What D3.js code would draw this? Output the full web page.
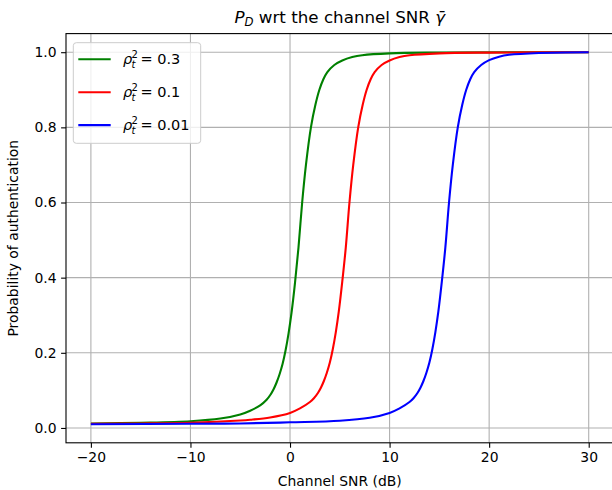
<!DOCTYPE html>
<html>
<head>
<meta charset="utf-8">
<script src="https://cdn.jsdelivr.net/npm/d3@7"></script>
<style>
  body { margin: 0; background: #fff; }
  text { font-family: "DejaVu Sans", sans-serif; fill: #000; }
</style>
</head>
<body>
<div id="container"></div>
<script>
// values
var greenSnr = [-20, -15, -10, -7, -5, -4, -3, -2.35, -1.95, -1.65, -1.35, -1.05, -0.75, -0.45, -0.15, 0.15, 0.5, 0.85, 1.22, 1.6, 2.1, 2.55, 2.95, 3.35, 3.75, 4.45, 5.25, 6.25, 7.25, 10, 15, 30];
var greenPd  = [0.012, 0.014, 0.018, 0.025, 0.036, 0.046, 0.06, 0.075, 0.089, 0.103, 0.121, 0.143, 0.17, 0.206, 0.251, 0.306, 0.386, 0.48, 0.6, 0.7, 0.8, 0.86, 0.9, 0.928, 0.947, 0.966, 0.978, 0.987, 0.992, 0.997, 0.999, 1.0];

var redSnr = [-20, -15, -10, -5, -4, -2, 0, 1, 2, 2.4, 2.8, 3.1, 3.4, 3.7, 4.0, 4.3, 4.6, 4.9, 5.25, 5.6, 5.97, 6.35, 6.85, 7.3, 7.7, 8.1, 8.5, 9.2, 10, 11, 12, 15, 20, 30];
var redPd  = [0.011, 0.012, 0.014, 0.02, 0.022, 0.028, 0.04, 0.052, 0.069, 0.079, 0.093, 0.107, 0.125, 0.147, 0.174, 0.21, 0.255, 0.31, 0.39, 0.48, 0.6, 0.7, 0.8, 0.86, 0.9, 0.928, 0.947, 0.966, 0.978, 0.987, 0.992, 0.997, 0.999, 1.0];

var blueSnr = [-20, -10, -5, 0, 5, 8, 10, 11, 12, 12.4, 12.8, 13.1, 13.4, 13.7, 14.0, 14.3, 14.6, 14.9, 15.25, 15.6, 15.97, 16.35, 16.85, 17.3, 17.7, 18.1, 18.5, 19.2, 20, 21, 22, 25, 30];
var bluePd  = [0.01, 0.011, 0.012, 0.015, 0.019, 0.027, 0.04, 0.052, 0.069, 0.079, 0.093, 0.107, 0.125, 0.147, 0.174, 0.21, 0.255, 0.31, 0.39, 0.48, 0.6, 0.7, 0.8, 0.86, 0.9, 0.928, 0.947, 0.966, 0.979, 0.988, 0.993, 0.998, 1.0];

var seriesNames = ["0.3", "0.1", "0.01"];
var seriesColors = ["#008000", "#ff0000", "#0000ff"];

var xTicks = [-20, -10, 0, 10, 20, 30];
var yTicks = [0, 0.2, 0.4, 0.6, 0.8, 1.0];

var W = 612, H = 490;
var margin = {top: 33.6, left: 66, right: 613.6, bottom: 442.8};

var svg = d3.select("#container").append("svg")
  .attr("width", W)
  .attr("height", H);

var x = d3.scaleLinear().domain([-22.5, 32.5]).range([margin.left, margin.right]);
var y = d3.scaleLinear().domain([-0.0395, 1.0495]).range([margin.bottom, margin.top]);

// grid
svg.append("g").selectAll("line").data(xTicks).enter().append("line")
  .attr("x1", d => x(d)).attr("x2", d => x(d))
  .attr("y1", margin.top).attr("y2", margin.bottom)
  .attr("stroke", "#b0b0b0").attr("stroke-width", 1.1);
svg.append("g").selectAll("line").data(yTicks).enter().append("line")
  .attr("y1", d => y(d)).attr("y2", d => y(d))
  .attr("x1", margin.left).attr("x2", margin.right)
  .attr("stroke", "#b0b0b0").attr("stroke-width", 1.1);

// curves
var series = [
  greenSnr.map((s, i) => [s, greenPd[i]]),
  redSnr.map((s, i) => [s, redPd[i]]),
  blueSnr.map((s, i) => [s, bluePd[i]])
];

var line = d3.line()
  .x(d => x(d[0]))
  .y(d => y(d[1]))
  .curve(d3.curveCatmullRom.alpha(0.5));

svg.append("g").selectAll("path").data(series).enter().append("path")
  .attr("d", line)
  .attr("fill", "none")
  .attr("stroke", (d, i) => seriesColors[i])
  .attr("stroke-width", 2.1);

// axes
var fmtX = d => (d < 0 ? "\u2212" + Math.abs(d) : "" + d);
var xAxis = svg.append("g")
  .attr("transform", "translate(0," + margin.bottom + ")")
  .call(d3.axisBottom(x).tickValues(xTicks).tickSize(4.9).tickPadding(4.5).tickFormat(fmtX));
var yAxis = svg.append("g")
  .attr("transform", "translate(" + margin.left + ",0)")
  .call(d3.axisLeft(y).tickValues(yTicks).tickSize(4.9).tickPadding(4.5).tickFormat(d3.format(".1f")));

[xAxis, yAxis].forEach(function(a) {
  a.select(".domain").remove();
  a.selectAll(".tick line").attr("stroke", "#000").attr("stroke-width", 1.1);
  a.selectAll(".tick text").style("font-size", "13.9px").style("font-family", "DejaVu Sans");
});

// spines
svg.append("rect")
  .attr("x", margin.left).attr("y", margin.top)
  .attr("width", margin.right - margin.left)
  .attr("height", margin.bottom - margin.top)
  .attr("fill", "none").attr("stroke", "#000").attr("stroke-width", 1.1);

// labels
svg.append("text")
  .attr("x", (margin.left + margin.right) / 2)
  .attr("y", 486)
  .style("text-anchor", "middle")
  .style("font-size", "13.9px")
  .text("Channel SNR (dB)");

svg.append("text")
  .attr("transform", "translate(18," + ((margin.top + margin.bottom) / 2) + ") rotate(-90)")
  .style("text-anchor", "middle")
  .style("font-size", "13.9px")
  .text("Probability of authentication");

var title = svg.append("text")
  .attr("x", (margin.left + margin.right) / 2)
  .attr("y", 23)
  .style("text-anchor", "middle")
  .style("font-size", "16.7px");
title.append("tspan").style("font-style", "italic").text("P");
title.append("tspan").style("font-style", "italic").style("font-size", "11.7px").attr("dy", 3).text("D");
title.append("tspan").attr("dy", -3).text(" wrt the channel SNR ");
title.append("tspan").style("font-style", "italic").text("\u03b3\u0304");

// legend
var legend = svg.append("g");
legend.append("rect")
  .attr("x", 73.3).attr("y", 42.7)
  .attr("width", 127.4).attr("height", 100.6)
  .attr("rx", 3)
  .attr("fill", "#fff").attr("fill-opacity", 0.8)
  .attr("stroke", "#cccccc").attr("stroke-width", 1);

var entry = legend.selectAll(".legend").data(seriesNames).enter().append("g")
  .attr("class", "legend")
  .attr("transform", (d, i) => "translate(0," + (59.3 + i * 32.9) + ")");

entry.append("line")
  .attr("x1", 78.3).attr("x2", 110.7)
  .attr("stroke", (d, i) => seriesColors[i])
  .attr("stroke-width", 2.1);
entry.append("text").attr("x", 123).attr("y", 5)
  .style("font-size", "14.5px").style("font-style", "italic").text("\u03c1");
entry.append("text").attr("x", 131.5).attr("y", -1.5)
  .style("font-size", "10px").text("2");
entry.append("text").attr("x", 131.5).attr("y", 9)
  .style("font-size", "10px").style("font-style", "italic").text("t");
entry.append("text").attr("x", 140.5).attr("y", 5)
  .style("font-size", "14.5px").text(d => "= " + d);
</script>
</body>
</html>
